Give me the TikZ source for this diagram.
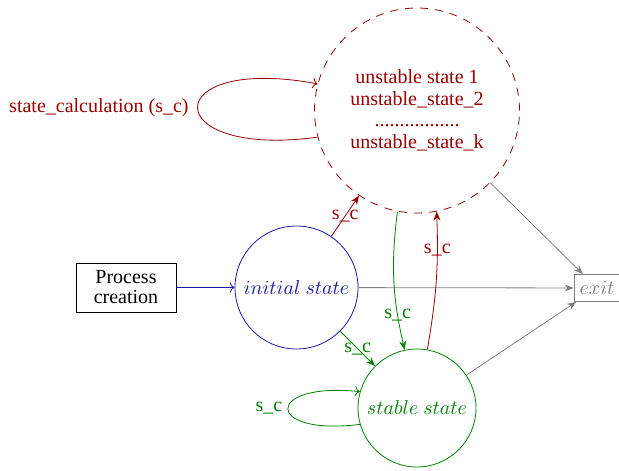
\documentclass[tikz,border=0pt]{standalone}
\usepackage{fontspec}
\setmainfont{Liberation Serif}
\usetikzlibrary{arrows.meta}
\definecolor{mred}{RGB}{153,0,0}
\definecolor{mgreen}{RGB}{0,128,0}
\definecolor{mblue}{RGB}{25,25,165}
\definecolor{mgray}{RGB}{128,128,128}
\begin{document}
\begin{tikzpicture}[x=0.5pt,y=-0.5pt,
  statenode/.style={circle,draw,inner sep=0pt},
  tr/.style={-{Stealth[length=4.5pt,width=3.5pt]}},
  lbl/.style={font=\fontsize{10}{12}\selectfont,inner sep=1pt}]
\useasboundingbox (0,0) rectangle (619,470);
\node[statenode,mred,dashed,dash pattern=on 4pt off 3.5pt,minimum size=102.5pt,align=center,font=\fontsize{10}{10.8}\selectfont] (unst) at (417,110.5)
  {unstable state 1\\unstable\_state\_2\\.................\\unstable\_state\_k};
\node[statenode,draw=mblue,text=mblue,minimum size=61.5pt] (init) at (296.5,287.5) {$initial\ state$};
\node[statenode,draw=mgreen,text=mgreen,minimum size=59pt] (stable) at (417,408) {$stable\ state$};
\node[draw,minimum width=50pt,minimum height=24.5pt,align=center,inner sep=1pt,font=\fontsize{10}{10}\selectfont] (proc) at (126,287.5) {Process\\creation};
\node[draw=mgray,text=mgray,minimum width=23pt,minimum height=13.5pt,inner sep=1pt] (exit) at (597,288) {$exit$};
\node[lbl,text=mred,anchor=east] (sclab) at (191,108) {state\_calculation (s\_c)};
\node[lbl,text=mgreen] (sclab2) at (269,408) {s\_c};

\draw[mblue,->] (proc) -- (init);
\draw[mgray,tr] (init) -- (exit);
\draw[mgray,tr] (unst) -- (exit);
\draw[mgray,tr] (stable) -- (exit);
\draw[mred,tr] (init) -- node[lbl]{s\_c} (unst);
\draw[mgreen,tr] (init) -- node[lbl]{s\_c} (stable);
\draw[mgreen,tr] (unst.259) to[bend right=10] node[lbl,pos=0.76]{s\_c} (stable.102);
\draw[mred,tr] (stable.80) to[bend right=6] node[lbl,pos=0.74]{s\_c} (unst.281);
\draw[mred,->] (unst.195) .. controls +(-160,22) and +(-160,-30) .. (unst.165);
\draw[mgreen,->] (stable.196) .. controls +(-96,12) and +(-96,-10) .. (stable.164);
\end{tikzpicture}
\end{document}
